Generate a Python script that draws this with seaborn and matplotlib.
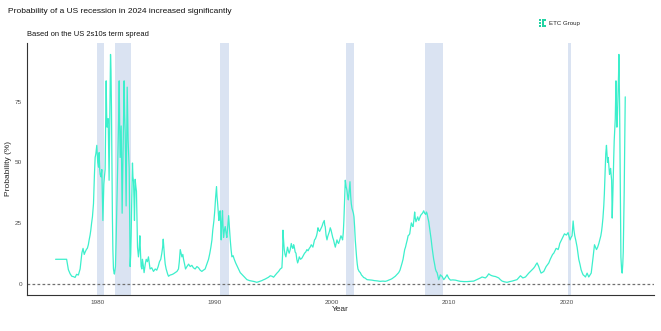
import numpy as np
import pandas as pd
import seaborn as sns
import matplotlib.pyplot as plt
from matplotlib.patches import Rectangle

# --------------------------------------------------
# Data
# --------------------------------------------------
years = [
    1976.46, 1977.40, 1977.55, 1977.70, 1977.84, 1978.00, 1978.12, 1978.25, 1978.40, 1978.55,
    1978.70, 1978.80, 1978.90, 1978.98, 1979.08, 1979.17, 1979.25, 1979.32, 1979.40, 1979.46,
    1979.53, 1979.60, 1979.69, 1979.77, 1979.83, 1979.89, 1979.97, 1980.05, 1980.12, 1980.17,
    1980.22, 1980.26, 1980.33, 1980.40, 1980.45, 1980.49, 1980.57, 1980.62, 1980.68, 1980.77,
    1980.81, 1980.85, 1980.90, 1980.94, 1980.98, 1981.02, 1981.08, 1981.14, 1981.18, 1981.22,
    1981.26, 1981.30, 1981.34, 1981.39, 1981.44, 1981.47, 1981.56, 1981.62, 1981.68, 1981.74,
    1981.79, 1981.84, 1981.88, 1981.92, 1981.96, 1982.00, 1982.05, 1982.09, 1982.13, 1982.18,
    1982.22, 1982.26, 1982.30, 1982.34, 1982.39, 1982.43, 1982.47, 1982.52, 1982.56, 1982.60,
    1982.64, 1982.69, 1982.73, 1982.77, 1982.81, 1982.86, 1982.90, 1982.95, 1983.01, 1983.05,
    1983.10, 1983.14, 1983.18, 1983.24, 1983.30, 1983.35, 1983.40, 1983.44, 1983.52, 1983.58,
    1983.64, 1983.70, 1983.75, 1983.81, 1983.86, 1983.93, 1984.00, 1984.10, 1984.18, 1984.28,
    1984.37, 1984.45, 1984.51, 1984.65, 1984.80, 1984.95, 1985.08, 1985.20, 1985.31, 1985.42,
    1985.51, 1985.58, 1985.63, 1985.68, 1985.74, 1985.80, 1985.88, 1986.00, 1986.08, 1986.22,
    1986.37, 1986.50, 1986.65, 1986.80, 1986.93, 1987.00, 1987.08, 1987.15, 1987.22, 1987.30,
    1987.36, 1987.45, 1987.53, 1987.65, 1987.79, 1987.93, 1988.07, 1988.20, 1988.35, 1988.50,
    1988.64, 1988.78, 1988.92, 1989.05, 1989.20, 1989.35, 1989.49, 1989.60, 1989.69, 1989.78,
    1989.85, 1989.95, 1990.02, 1990.10, 1990.17, 1990.21, 1990.25, 1990.31, 1990.37, 1990.42,
    1990.48, 1990.53, 1990.57, 1990.62, 1990.68, 1990.72, 1990.77, 1990.84, 1990.91, 1990.98,
    1991.05, 1991.12, 1991.20, 1991.27, 1991.34, 1991.41, 1991.48, 1991.58, 1991.68, 1991.80,
    1991.90, 1992.05, 1992.19, 1992.33, 1992.48, 1992.62, 1992.76, 1992.99, 1993.20, 1993.40,
    1993.60, 1993.80, 1994.03, 1994.15, 1994.30, 1994.45, 1994.60, 1994.75, 1994.90, 1995.03,
    1995.18, 1995.32, 1995.46, 1995.60, 1995.74, 1995.80, 1995.83, 1995.88, 1995.94, 1996.01,
    1996.08, 1996.15, 1996.22, 1996.29, 1996.36, 1996.45, 1996.54, 1996.61, 1996.68, 1996.74,
    1996.80, 1996.87, 1996.94, 1997.01, 1997.08, 1997.15, 1997.22, 1997.33, 1997.45, 1997.56,
    1997.67, 1997.77, 1997.87, 1997.97, 1998.07, 1998.15, 1998.24, 1998.31, 1998.38, 1998.45,
    1998.52, 1998.60, 1998.69, 1998.75, 1998.81, 1998.88, 1998.95, 1999.05, 1999.15, 1999.25,
    1999.35, 1999.39, 1999.43, 1999.50, 1999.58, 1999.65, 1999.72, 1999.79, 1999.86, 1999.93,
    2000.00, 2000.07, 2000.14, 2000.21, 2000.29, 2000.36, 2000.43, 2000.50, 2000.57, 2000.67,
    2000.77, 2000.84, 2000.91, 2000.97, 2001.02, 2001.08, 2001.14, 2001.21, 2001.28, 2001.34,
    2001.40, 2001.47, 2001.54, 2001.60, 2001.65, 2001.71, 2001.77, 2001.83, 2001.88, 2001.94,
    2001.99, 2002.05, 2002.10, 2002.16, 2002.22, 2002.32, 2002.42, 2002.52, 2002.62, 2002.70,
    2002.84, 2002.99, 2003.20, 2003.41, 2003.62, 2003.84, 2004.12, 2004.35, 2004.55, 2004.70,
    2004.83, 2005.00, 2005.12, 2005.26, 2005.40, 2005.55, 2005.69, 2005.80, 2005.89, 2005.98,
    2006.06, 2006.13, 2006.20, 2006.27, 2006.34, 2006.42, 2006.49, 2006.56, 2006.63, 2006.70,
    2006.77, 2006.84, 2006.91, 2006.98, 2007.05, 2007.10, 2007.16, 2007.24, 2007.31, 2007.40,
    2007.48, 2007.55, 2007.62, 2007.72, 2007.82, 2007.90, 2007.99, 2008.05, 2008.10, 2008.18,
    2008.25, 2008.32, 2008.39, 2008.46, 2008.53, 2008.60, 2008.67, 2008.75, 2008.82, 2008.89,
    2008.96, 2009.03, 2009.10, 2009.17, 2009.24, 2009.31, 2009.38, 2009.45, 2009.53, 2009.67,
    2009.81, 2009.95, 2010.10, 2010.30, 2010.52, 2010.75, 2010.95, 2011.25, 2011.52, 2011.80,
    2012.08, 2012.30, 2012.51, 2012.65, 2012.79, 2012.93, 2013.08, 2013.22, 2013.36, 2013.50,
    2013.64, 2013.80, 2013.93, 2014.07, 2014.21, 2014.35, 2014.50, 2014.70, 2014.92, 2015.15,
    2015.35, 2015.55, 2015.77, 2015.92, 2016.06, 2016.16, 2016.26, 2016.38, 2016.49, 2016.63,
    2016.77, 2016.92, 2017.06, 2017.18, 2017.29, 2017.38, 2017.48, 2017.55, 2017.62, 2017.72,
    2017.82, 2017.93, 2018.05, 2018.15, 2018.25, 2018.37, 2018.48, 2018.60, 2018.70, 2018.80,
    2018.90, 2019.00, 2019.10, 2019.19, 2019.27, 2019.34, 2019.41, 2019.51, 2019.61, 2019.71,
    2019.81, 2019.90, 2019.98, 2020.05, 2020.12, 2020.20, 2020.29, 2020.37, 2020.46, 2020.51,
    2020.55, 2020.62, 2020.69, 2020.79, 2020.89, 2020.96, 2021.03, 2021.13, 2021.23, 2021.32,
    2021.40, 2021.50, 2021.60, 2021.67, 2021.74, 2021.81, 2021.88, 2021.98, 2022.09, 2022.16,
    2022.23, 2022.30, 2022.37, 2022.45, 2022.54, 2022.64, 2022.74, 2022.82, 2022.91, 2022.97,
    2023.02, 2023.09, 2023.16, 2023.21, 2023.25, 2023.29, 2023.33, 2023.39, 2023.44, 2023.48,
    2023.54, 2023.60, 2023.65, 2023.70, 2023.74, 2023.79, 2023.83, 2023.88, 2023.93, 2023.97,
    2024.01, 2024.05, 2024.10, 2024.14, 2024.20, 2024.24, 2024.28, 2024.33, 2024.37, 2024.42,
    2024.45, 2024.48, 2024.51, 2024.56, 2024.62, 2024.68, 2024.73, 2024.78, 2024.82, 2024.86,
    2024.90, 2024.95, 2024.99,
]

probability = [
    10, 10, 5.7, 4.0, 3.0, 2.8, 2.5, 3.8, 3.5, 6.0,
    12.6, 14.5, 12.0, 13, 14, 14.6, 16, 18, 20, 22,
    25, 27.5, 33, 45, 52, 53.5, 57, 50, 48, 54,
    47, 45, 44, 47, 36, 26, 41, 44, 47, 83.6,
    70, 64.5, 67, 68, 55, 42.6, 70, 94.5, 88, 72.7,
    50, 27.6, 14, 6, 4.5, 3.9, 7, 18, 32, 45,
    59, 70, 83.6, 65, 52, 58, 65, 45, 29, 45,
    59, 72, 83.6, 70, 62, 45, 32, 60, 81, 70,
    59, 52, 47.5, 25, 7, 12, 20, 35, 49.7, 44,
    42, 35, 26, 43, 40, 38, 25, 15, 11, 14,
    19.7, 12, 7, 6, 10, 7.5, 4.5, 8, 10, 9,
    11, 8, 6, 6.5, 5, 6, 5.5, 7, 9, 10,
    12.5, 15, 18.3, 15, 11, 8, 6, 4, 3, 3.5,
    3.7, 4, 4.5, 5, 6, 9, 14, 12.5, 11, 12,
    10, 8, 6, 7, 8, 7, 7.5, 6.5, 6, 7,
    6.5, 5.5, 5, 5.5, 6, 8, 10, 12.5, 15, 18,
    22, 26, 30, 36, 40, 36, 34, 30, 26, 29,
    30, 24, 18, 25, 30, 24, 19, 22, 23.5, 21,
    19, 23, 28, 23, 18, 14, 11, 11.5, 10, 8.5,
    7.5, 6, 4.5, 3.8, 3, 2.4, 1.6, 1.2, 1, 0.8,
    0.5, 0.8, 1.2, 1.5, 1.8, 2.2, 2.6, 3.2, 3, 2.6,
    3.5, 4.3, 5, 6, 6.5, 12, 22, 18, 14, 12,
    11, 13, 15, 13.5, 12.5, 14, 16.5, 15, 14.5, 16,
    15, 13, 12.5, 10, 8.5, 9.5, 11, 10, 10.5, 11.5,
    12.5, 13, 14, 13.5, 14.5, 15, 16, 15.5, 15, 16.5,
    18, 18.5, 19.7, 21, 23, 22, 21.5, 22.5, 23.5, 25,
    26, 24, 23.5, 20, 18, 19.5, 20.5, 21.5, 23, 22,
    20.5, 19, 18, 16.5, 15, 16.5, 18, 17, 16.5, 18,
    19.7, 19, 18, 21, 26, 35, 42.6, 40, 38.5, 36,
    34.5, 38, 42, 36, 33, 31, 30, 29, 27.5, 23,
    18, 14, 11, 8, 6, 5, 4.5, 3.5, 3, 2.5,
    2.2, 1.6, 1.5, 1.4, 1.2, 1.1, 0.9, 1.0, 0.9, 1.1,
    1.4, 1.7, 2, 2.5, 3, 3.8, 4.5, 5.5, 7, 8.5,
    10, 12, 14, 15, 16.5, 18, 19.7, 20, 20.5, 23,
    25, 24, 23.5, 26, 29.5, 27, 25.5, 26.5, 27.5, 26,
    27, 28, 28.5, 29, 30, 29, 28.5, 29.5, 29, 27,
    25.5, 23, 20.5, 18, 15, 12.5, 10, 8, 6, 5,
    4.5, 3, 1.6, 2.5, 3.6, 3.2, 3, 2.3, 1.6, 2.5,
    3.6, 2.2, 1.4, 1.5, 1.4, 1.1, 0.9, 0.8, 0.8, 0.9,
    1, 1.5, 2, 2.3, 2.7, 2.5, 2.3, 3, 4, 3.5,
    3.2, 3, 2.9, 2.6, 2.3, 1.6, 1, 0.7, 0.5, 0.8,
    1, 1.3, 1.6, 2.4, 3.2, 2.8, 2.3, 2.5, 2.7, 3.5,
    4.3, 5, 5.7, 6.3, 7, 7.8, 8.5, 7.8, 7, 5.5,
    4.3, 4.6, 5, 6, 7, 7.8, 8.5, 10, 11, 12,
    12.5, 13.5, 14.5, 14.3, 14, 15, 16.5, 17.5, 18.5, 19.5,
    20.5, 20.2, 20, 20.5, 21, 19.5, 18, 19, 19.7, 23,
    25.8, 22, 19.7, 17.5, 15, 12.5, 10, 8, 5.7, 4.5,
    3.6, 3.2, 2.7, 3.5, 4.3, 3.5, 2.7, 3.5, 4.3, 7,
    10, 13, 16, 15, 14, 15, 16.5, 18, 19.7, 21.5,
    23.5, 27, 32, 37, 42.6, 48, 53.5, 57, 53, 50,
    52, 48, 45, 46, 47.5, 45, 42.6, 27, 36, 45,
    52, 59, 64, 68, 83.6, 72, 64.5, 70, 77, 86,
    94.5, 85, 72.7, 42.6, 11, 5.7, 4.3, 8, 13, 25,
    37.5, 58, 77,
]

# NBER recessions (start, end)
rec_start = [1980.0, 1981.5, 1990.5, 2001.17, 2007.92, 2020.1]
rec_end = [1980.55, 1982.9, 1991.2, 2001.9, 2009.5, 2020.35]

x_ticks = [1980, 1990, 2000, 2010, 2020]
y_ticks = [0, 25, 50, 75]

df = pd.DataFrame({"Year": years, "Probability": probability})

# --------------------------------------------------
# Plot
# --------------------------------------------------
sns.set_style("white")
plt.rcParams["font.family"] = ["Liberation Sans", "DejaVu Sans"]

fig = plt.figure(figsize=(6.61, 3.31), dpi=100)
ax = fig.add_axes([0.041, 0.109, 0.948, 0.761])

for s, e in zip(rec_start, rec_end):
    ax.axvspan(s, e, color="#dae3f2", lw=0, zorder=0)

ax.axhline(0, color="#707070", lw=0.9, ls=(0, (2.2, 1.8)), zorder=1)

sns.lineplot(data=df, x="Year", y="Probability", ax=ax, color="#3cefcc",
             lw=0.9, sort=False, zorder=2)

span = years[-1] - years[0]
ax.set_xlim(years[0] - 0.05 * span, years[-1] + 0.05 * span)
ax.set_ylim(-4.7, 99.2)
ax.set_xticks(x_ticks)
ax.set_yticks(y_ticks)
ax.tick_params(axis="both", labelsize=4.6, colors="#4d4d4d", length=2, width=0.5,
               pad=1.5)
ax.set_xlabel("Year", fontsize=6, labelpad=1)
ax.set_ylabel("Probability (%)", fontsize=6, labelpad=2)

sns.despine(ax=ax)
for side in ["left", "bottom"]:
    ax.spines[side].set_color("#333333")
    ax.spines[side].set_linewidth(0.8)

fig.text(0.012, 0.975, "Probability of a US recession in 2024 increased significantly",
         fontsize=6, va="top", ha="left", color="#111111")
fig.text(0.041, 0.905, "Based on the US 2s10s term spread",
         fontsize=5.4, va="top", ha="left", color="#111111")

# small logo
logo = "#22d3a3"
W, H = 661, 331
def px_rect(x, y, w, h):
    fig.patches.append(Rectangle((x / W, 1 - (y + h) / H), w / W, h / H,
                                 transform=fig.transFigure, color=logo, lw=0))
for yy in [19, 22, 25]:
    px_rect(539, yy, 2, 2)
px_rect(542, 19, 4, 2)
px_rect(542, 19, 2, 8)
px_rect(542, 25, 4, 2)
fig.text(549 / W, 1 - 23 / H, "ETC Group", fontsize=4.4, va="center", ha="left",
         color="#222222")

plt.savefig("out.png", dpi=100)
